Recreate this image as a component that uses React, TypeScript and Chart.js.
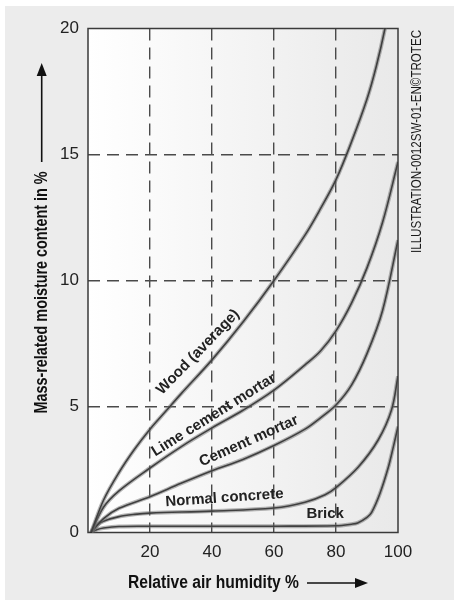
import React, { useEffect, useRef } from 'react';
import { Chart, registerables } from 'chart.js';

Chart.register(...registerables);

// ---- data ----
const humidityTicks = [0, 20, 40, 60, 80, 100];
const moistureTicks = [0, 5, 10, 15, 20];

const woodX = [1, 5, 10, 15, 20, 25, 30, 40, 50, 60, 70, 75, 80, 85, 90, 93, 95.8, 98];
const woodY = [0, 1.28, 2.38, 3.3, 4.1, 4.8, 5.5, 6.85, 8.35, 10, 11.8, 12.85, 14, 15.5, 17.2, 18.5, 20, 21.5];

const limeX = [1, 5, 10, 20, 30, 40, 50, 60, 70, 75, 80, 85, 90, 95, 100];
const limeY = [0, 1.0, 1.65, 2.56, 3.4, 4.15, 4.85, 5.65, 6.65, 7.2, 8.0, 9.1, 10.5, 12.3, 14.7];

const cementX = [1, 5, 10, 20, 30, 40, 50, 60, 70, 75, 80, 85, 90, 95, 100];
const cementY = [0, 0.55, 0.96, 1.42, 1.95, 2.45, 2.9, 3.45, 4.1, 4.55, 5.06, 5.85, 7.1, 8.8, 11.6];

const concreteX = [1, 3, 5, 10, 15, 20, 40, 60, 70, 76.5, 80, 87.2, 93.6, 97.9, 100];
const concreteY = [0, 0.3, 0.45, 0.63, 0.72, 0.77, 0.85, 0.97, 1.2, 1.5, 1.78, 2.6, 3.67, 4.86, 6.2];

const brickX = [1, 3, 5, 10, 20, 40, 60, 80, 85, 87, 90, 91.5, 94.2, 96.9, 98.5, 100];
const brickY = [0, 0.12, 0.18, 0.24, 0.25, 0.25, 0.25, 0.27, 0.33, 0.38, 0.6, 0.8, 1.56, 2.6, 3.4, 4.2];

const seriesNames = ['Wood (average)', 'Lime cement mortar', 'Cement mortar', 'Normal concrete', 'Brick'];
const seriesX = [woodX, limeX, cementX, concreteX, brickX];
const seriesY = [woodY, limeY, cementY, concreteY, brickY];

// label anchors in data units and rotation in degrees
const labelAnchors = [
  { text: 'Wood (average)', x: 35.5, y: 7.16, angle: -46 },
  { text: 'Lime cement mortar', x: 40.6, y: 4.66, angle: -32 },
  { text: 'Cement mortar', x: 51.9, y: 3.63, angle: -24 },
  { text: 'Normal concrete', x: 44, y: 1.37, angle: -4 },
  { text: 'Brick', x: 76.5, y: 0.73, angle: 0 },
];

const xTitle = 'Relative air humidity %';
const yTitle = 'Mass-related moisture content in %';
const sideText = 'ILLUSTRATION-0012SW-01-EN\u00A9TROTEC';

const FONT = "'Liberation Sans', Arial, Helvetica, sans-serif";

function drawText(ctx: CanvasRenderingContext2D, text: string, x: number, y: number, angleDeg: number, font: string, color: string, fitWidth?: number) {
  ctx.save();
  ctx.font = font;
  ctx.fillStyle = color;
  ctx.textAlign = 'center';
  ctx.textBaseline = 'middle';
  ctx.translate(x, y);
  ctx.rotate((angleDeg * Math.PI) / 180);
  if (fitWidth) {
    const w = ctx.measureText(text).width;
    ctx.scale(fitWidth / w, 1);
  }
  ctx.fillText(text, 0, 0);
  ctx.restore();
}

function arrow(ctx: CanvasRenderingContext2D, x1: number, y1: number, x2: number, y2: number) {
  const ang = Math.atan2(y2 - y1, x2 - x1);
  const hl = 13;
  const hw = 5;
  ctx.save();
  ctx.strokeStyle = '#111';
  ctx.fillStyle = '#111';
  ctx.lineWidth = 1.6;
  ctx.beginPath();
  ctx.moveTo(x1, y1);
  ctx.lineTo(x2 - hl * Math.cos(ang), y2 - hl * Math.sin(ang));
  ctx.stroke();
  ctx.beginPath();
  ctx.moveTo(x2, y2);
  ctx.lineTo(x2 - hl * Math.cos(ang) + hw * Math.sin(ang), y2 - hl * Math.sin(ang) - hw * Math.cos(ang));
  ctx.lineTo(x2 - hl * Math.cos(ang) - hw * Math.sin(ang), y2 - hl * Math.sin(ang) + hw * Math.cos(ang));
  ctx.closePath();
  ctx.fill();
  ctx.restore();
}

const decor = {
  id: 'decor',
  beforeDraw(chart: any) {
    const { ctx, chartArea: a, width, height } = chart;
    ctx.save();
    ctx.fillStyle = '#ffffff';
    ctx.fillRect(0, 0, width, height);
    ctx.fillStyle = '#ececec';
    ctx.fillRect(5, 6, width - 5, height - 6);
    const g = ctx.createLinearGradient(a.left, 0, a.right, 0);
    g.addColorStop(0, '#ffffff');
    g.addColorStop(1, '#e9e9e9');
    ctx.fillStyle = g;
    ctx.fillRect(a.left, a.top, a.right - a.left, a.bottom - a.top);
    ctx.restore();
  },
  beforeDatasetsDraw(chart: any) {
    const { ctx, chartArea: a } = chart;
    ctx.save();
    ctx.strokeStyle = '#3a3a3a';
    ctx.lineWidth = 1.5;
    ctx.strokeRect(a.left, a.top, a.right - a.left, a.bottom - a.top);
    ctx.restore();
  },
  afterDraw(chart: any) {
    const { ctx, scales } = chart;
    const xs = scales.x;
    const ys = scales.y;
    labelAnchors.forEach((l) => {
      drawText(ctx, l.text, xs.getPixelForValue(l.x), ys.getPixelForValue(l.y), l.angle, `bold 15px ${FONT}`, '#222');
    });
    // x title + arrow
    drawText(ctx, xTitle, 213.5, 583, 0, `bold 18px ${FONT}`, '#111', 171);
    arrow(ctx, 307, 583, 368, 583);
    // y title + arrow
    drawText(ctx, yTitle, 41.7, 292.5, -90, `bold 18px ${FONT}`, '#111', 242);
    arrow(ctx, 41.7, 162, 41.7, 63);
    // side credit
    drawText(ctx, sideText, 416.7, 141.5, -90, `14px ${FONT}`, '#1a1a1a', 223);
  },
};

export default function App() {
  const ref = useRef<HTMLCanvasElement | null>(null);

  useEffect(() => {
    if (!ref.current) return;
    const datasets: any[] = [];
    seriesNames.forEach((name, i) => {
      const pts = seriesX[i].map((x, j) => ({ x, y: seriesY[i][j] }));
      datasets.push({
        label: name + ' halo',
        data: pts,
        borderColor: 'rgba(110,110,110,0.5)',
        borderWidth: 4,
        pointRadius: 0,
        tension: 0.35,
        fill: false,
      });
      datasets.push({
        label: name,
        data: pts,
        borderColor: '#111111',
        borderWidth: 1.6,
        pointRadius: 0,
        tension: 0.35,
        fill: false,
      });
    });

    const chart = new Chart(ref.current, {
      type: 'line',
      data: { datasets },
      plugins: [decor],
      options: {
        responsive: false,
        animation: false,
        devicePixelRatio: 1,
        layout: { padding: { left: 0, top: 28.5, right: 56, bottom: 0 } },
        plugins: { legend: { display: false }, tooltip: { enabled: false }, title: { display: false } },
        scales: {
          x: {
            type: 'linear',
            min: 0,
            max: 100,
            afterBuildTicks: (s: any) => {
              s.ticks = humidityTicks.map((v) => ({ value: v }));
            },
            afterFit: (s: any) => {
              s.height = 67.5;
            },
            ticks: {
              callback: (v: any) => (v === 0 ? '' : String(v)),
              font: { family: FONT, size: 17 },
              color: '#222',
              padding: 10,
              maxRotation: 0,
              autoSkip: false,
            },
            grid: {
              color: (c: any) => (c.tick && c.tick.value > 0 && c.tick.value < 100 ? '#4a4a4a' : 'rgba(0,0,0,0)'),
              lineWidth: 1.4,
              drawTicks: false,
            },
            border: { display: false, dash: [12, 7] },
          },
          y: {
            type: 'linear',
            min: 0,
            max: 20,
            afterBuildTicks: (s: any) => {
              s.ticks = moistureTicks.map((v) => ({ value: v }));
            },
            afterFit: (s: any) => {
              s.width = 88;
            },
            ticks: {
              font: { family: FONT, size: 17 },
              color: '#222',
              padding: 9,
              autoSkip: false,
            },
            grid: {
              color: (c: any) => (c.tick && c.tick.value > 0 && c.tick.value < 20 ? '#4a4a4a' : 'rgba(0,0,0,0)'),
              lineWidth: 1.4,
              drawTicks: false,
            },
            border: { display: false, dash: [12, 7] },
          },
        },
      },
    } as any);
    return () => chart.destroy();
  }, []);

  return (
    <div style={{ position: 'fixed', left: 0, top: 0, width: 454, height: 600, background: '#fff' }}>
      <canvas ref={ref} width={454} height={600} style={{ display: 'block', width: 454, height: 600 }} />
    </div>
  );
}
